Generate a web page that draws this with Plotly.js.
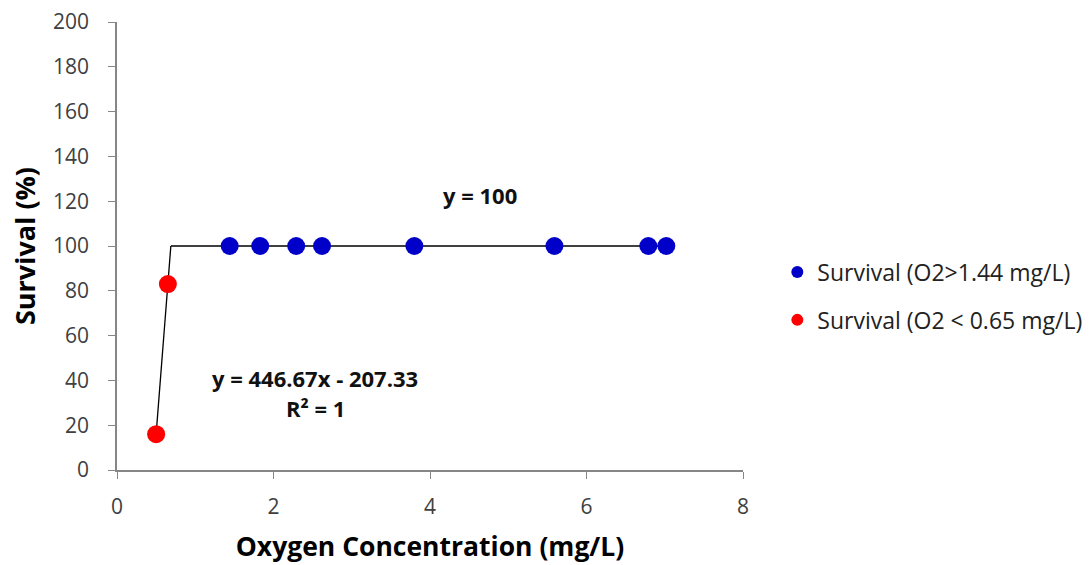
<!DOCTYPE html>
<html><head><meta charset="utf-8">
<script src="https://cdn.plot.ly/plotly-3.0.1.min.js"></script>
<style>html,body{margin:0;padding:0;background:#fff}#chart{width:1091px;height:565px}</style>
</head><body><div id="chart"></div>
<script>
const highX = [1.44, 1.83, 2.29, 2.62, 3.80, 5.59, 6.79, 7.02];
const highY = [100, 100, 100, 100, 100, 100, 100, 100];
const lowX = [0.50, 0.65];
const lowY = [16, 83];
const fitLowX = [0.50, 0.688];
const fitLowY = [16, 100];
const fitHighX = [0.688, 7.02];
const fitHighY = [100, 100];
const xTicks = [0, 2, 4, 6, 8];
const yTicks = [0, 20, 40, 60, 80, 100, 120, 140, 160, 180, 200];

const font = "'Open Sans', 'Noto Sans', sans-serif";
const data = [
  {x: fitLowX, y: fitLowY, mode: 'lines', line: {color: '#000', width: 1.3}, showlegend: false, hoverinfo: 'skip'},
  {x: fitHighX, y: fitHighY, mode: 'lines', line: {color: '#000', width: 1.3}, showlegend: false, hoverinfo: 'skip'},
  {x: highX, y: highY, mode: 'markers', name: 'Survival (O2>1.44 mg/L)', legendgroup: 'a',
   marker: {color: '#0000c8', size: 18}},
  {x: lowX, y: lowY, mode: 'markers', name: 'Survival (O2 < 0.65 mg/L)', legendgroup: 'b',
   marker: {color: '#ff0000', size: 18}}
];
const layout = {
  width: 1091, height: 565,
  margin: {l: 117, r: 348, t: 22, b: 95, autoexpand: false},
  paper_bgcolor: '#fff', plot_bgcolor: '#fff',
  font: {family: font, size: 20, color: '#222'},
  xaxis: {range: [0, 8], tickvals: xTicks, ticks: 'outside', ticklen: 7, tickcolor: '#868686',
          showline: true, linecolor: '#868686', linewidth: 1.5, showgrid: false, zeroline: false,
          ticklabelstandoff: 10,
          tickfont: {size: 21, color: '#404040'},
          title: {text: '<b>Oxygen Concentration (mg/L)</b>', font: {size: 26.5, color: '#000'}, standoff: 18}},
  yaxis: {range: [0, 200], tickvals: yTicks, ticks: 'outside', ticklen: 7, tickcolor: '#868686',
          showline: true, linecolor: '#868686', linewidth: 1.5, showgrid: false, zeroline: false,
          ticklabelstandoff: 15,
          tickfont: {size: 21, color: '#404040'},
          title: {text: '<b>Survival (%)</b>', font: {size: 27, color: '#000'}, standoff: 10}},
  showlegend: true,
  legend: {xref: 'container', yref: 'container', x: 0.7125, xanchor: 'left', y: 0.5566, yanchor: 'top', tracegroupgap: 15,
           itemsizing: 'constant', itemwidth: 30, font: {size: 23, color: '#222'}, bgcolor: 'rgba(0,0,0,0)'},
  annotations: [
    {x: 4.64, y: 122.8, xref: 'x', yref: 'y', text: '<b>y = 100</b>', showarrow: false, font: {size: 22, color: '#111'}},
    {x: 2.524, y: 41, xref: 'x', yref: 'y', text: '<b>y = 446.67x - 207.33</b>', showarrow: false, font: {size: 22, color: '#111'}},
    {x: 2.543, y: 27.7, xref: 'x', yref: 'y', text: '<b>R² = 1</b>', showarrow: false, font: {size: 22, color: '#111'}}
  ]
};
Plotly.newPlot('chart', data, layout, {displayModeBar: false});
</script></body></html>
